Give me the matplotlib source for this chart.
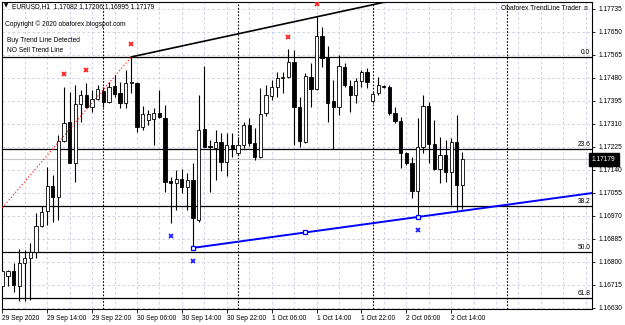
import numpy as np
import pandas as pd
from matplotlib import pyplot as plt

'''EURUSD H1 candles, read off the screenshot'''

opens = [1.16710, 1.16747, 1.16766, 1.16710, 1.16795, 1.16814, 1.16836, 1.16932, 1.16988, 1.17080,
         1.17039, 1.17246, 1.17317, 1.17165, 1.17383, 1.17416, 1.17372, 1.17402, 1.17431, 1.17390,
         1.17450, 1.17424, 1.17387, 1.17461, 1.17461, 1.17298, 1.17324, 1.17328, 1.17350, 1.17331,
         1.17098, 1.17091, 1.17106, 1.17076, 1.17102, 1.16954, 1.17291, 1.17228, 1.17220, 1.17243,
         1.17169, 1.17231, 1.17202, 1.17231, 1.17305, 1.17239, 1.17187, 1.17350, 1.17413, 1.17446,
         1.17479, 1.17483, 1.17538, 1.17372, 1.17243, 1.17483, 1.17439, 1.17634, 1.17553, 1.17394,
         1.17372, 1.17520, 1.17450, 1.17416, 1.17468, 1.17501, 1.17394, 1.17424, 1.17450, 1.17446,
         1.17350, 1.17320, 1.17202, 1.17165, 1.17061, 1.17224, 1.17376, 1.17235, 1.17143, 1.17195,
         1.17132, 1.17243, 1.17082]
highs = [1.16777, 1.16769, 1.16795, 1.16847, 1.16843, 1.16869, 1.16980, 1.17006, 1.17150, 1.17121,
         1.17268, 1.17446, 1.17427, 1.17453, 1.17435, 1.17461, 1.17435, 1.17453, 1.17446, 1.17464,
         1.17490, 1.17464, 1.17509, 1.17557, 1.17464, 1.17376, 1.17361, 1.17368, 1.17435, 1.17379,
         1.17113, 1.17139, 1.17143, 1.17128, 1.17165, 1.17416, 1.17524, 1.17250, 1.17287, 1.17276,
         1.17276, 1.17276, 1.17261, 1.17317, 1.17331, 1.17294, 1.17442, 1.17453, 1.17472, 1.17501,
         1.17501, 1.17586, 1.17583, 1.17409, 1.17498, 1.17535, 1.17705, 1.17668, 1.17597, 1.17472,
         1.17564, 1.17535, 1.17472, 1.17479, 1.17509, 1.17516, 1.17427, 1.17483, 1.17453, 1.17453,
         1.17372, 1.17335, 1.17206, 1.17187, 1.17331, 1.17416, 1.17390, 1.17324, 1.17261, 1.17250,
         1.17257, 1.17342, 1.17206]
lows = [1.16703, 1.16710, 1.16688, 1.16655, 1.16655, 1.16658, 1.16814, 1.16928, 1.16936, 1.16947,
        1.16954, 1.17243, 1.17165, 1.17095, 1.17317, 1.17368, 1.17353, 1.17398, 1.17372, 1.17387,
        1.17409, 1.17368, 1.17368, 1.17424, 1.17280, 1.17287, 1.17305, 1.17231, 1.17331, 1.17058,
        1.16943, 1.16991, 1.17054, 1.16991, 1.16851, 1.16947, 1.17224, 1.17058, 1.17102, 1.17135,
        1.17117, 1.17187, 1.17195, 1.17220, 1.17228, 1.17176, 1.17183, 1.17339, 1.17398, 1.17409,
        1.17424, 1.17479, 1.17231, 1.17224, 1.17239, 1.17372, 1.17435, 1.17520, 1.17317, 1.17217,
        1.17342, 1.17446, 1.17353, 1.17387, 1.17446, 1.17442, 1.17387, 1.17416, 1.17442, 1.17342,
        1.17313, 1.17146, 1.17158, 1.17036, 1.16965, 1.17202, 1.17165, 1.17139, 1.17091, 1.17095,
        1.17010, 1.16991, 1.16995]
closes = [1.16766, 1.16766, 1.16714, 1.16795, 1.16814, 1.16836, 1.16932, 1.16984, 1.17080, 1.17039,
          1.17246, 1.17313, 1.17165, 1.17383, 1.17416, 1.17372, 1.17402, 1.17439, 1.17390, 1.17446,
          1.17420, 1.17387, 1.17461, 1.17464, 1.17298, 1.17346, 1.17346, 1.17350, 1.17335, 1.17095,
          1.17091, 1.17106, 1.17076, 1.17102, 1.16962, 1.17287, 1.17224, 1.17224, 1.17243, 1.17169,
          1.17231, 1.17217, 1.17231, 1.17305, 1.17239, 1.17187, 1.17346, 1.17416, 1.17446, 1.17479,
          1.17483, 1.17538, 1.17372, 1.17246, 1.17487, 1.17439, 1.17634, 1.17553, 1.17387, 1.17372,
          1.17524, 1.17453, 1.17416, 1.17468, 1.17501, 1.17464, 1.17420, 1.17453, 1.17446, 1.17350,
          1.17320, 1.17202, 1.17165, 1.17061, 1.17224, 1.17376, 1.17235, 1.17143, 1.17195, 1.17132,
          1.17243, 1.17082, 1.17179]

times = pd.date_range("2020-09-29 06:00", periods=len(closes), freq="h")

sell_marks = [11, 15, 23, 51, 56]     # red x above highs
buy_marks = [30, 34, 74]              # blue x below lows
upper_line = (23, 56)                 # black trendline through highs
lower_line = (34, 74)                 # blue trendline through lows
red_dot_start = 1.16999               # dotted red line, left edge price
fib_high, fib_low = 1.17557, 1.16112
fib_levels = [0.0, 23.6, 38.2, 50.0, 61.8]
yticks = [1.16630 + 0.00085 * k for k in range(14)]

plt.rcParams['font.family'] = ['Liberation Sans', 'DejaVu Sans']
fs = 4.8

fig = plt.figure(figsize=(6.25, 3.25), dpi=100)
ax = fig.add_axes([2 / 625, 1 - 309 / 325, 590 / 625, 307 / 325])

n = len(closes)
x = np.arange(n)
o = np.array(opens); h = np.array(highs); l = np.array(lows); c = np.array(closes)

ax.set_xlim(-0.053, 105.1)
ax.set_ylim(1.16625, 1.17760)

# grid
for i in range(0, 106, 4):
    ax.axvline(i, color='#c8c8e8', lw=0.6, ls=(0, (3, 3)), zorder=0)
for yv in yticks:
    ax.axhline(yv, color='#c8c8e8', lw=0.6, ls=(0, (3, 3)), zorder=0)
# day separators
for i in range(0, 106):
    if (times[0].hour + i) % 24 == 0:
        ax.axvline(i, color='black', lw=0.8, ls=(0, (1.5, 1.5)), zorder=1)

# fib levels
for lv in fib_levels:
    yv = fib_high - (fib_high - fib_low) * lv / 100
    ax.axhline(yv, color='black', lw=0.9, zorder=2)
    ax.text(104.8, yv + 0.00004, '%.1f' % lv, ha='right', va='bottom', fontsize=fs, zorder=6)

# bid line
ax.axhline(c[-1], color='#c8c8c8', lw=0.8, zorder=1)

# candles
ax.vlines(x, l, h, color='black', lw=0.8, zorder=3)
bull = c >= o
ax.bar(x[bull], (c - o)[bull], bottom=o[bull], width=0.58, color='white',
       edgecolor='black', lw=0.6, zorder=4)
ax.bar(x[~bull], (o - c)[~bull], bottom=c[~bull], width=0.58, color='black',
       edgecolor='black', lw=0.6, zorder=4)

# trendlines
a, b = upper_line
slope = (h[b] - h[a]) / (b - a)
xx = np.array([a, 110])
ax.plot(xx, h[a] + slope * (xx - a), color='black', lw=1.2, zorder=5)
ax.plot([0, a], [red_dot_start, h[a]], color='red', lw=0.8, ls=(0, (1, 2)), zorder=5)

a, b = lower_line
slope = (l[b] - l[a]) / (b - a)
xx = np.array([a, 110])
ax.plot(xx, l[a] + slope * (xx - a), color='#0000ff', lw=1.4, zorder=5)
mid = (a + b) // 2
sq = np.array([a, mid, b])
ax.plot(sq, l[a] + slope * (sq - a), 's', ms=3, mfc='white', mec='#0000ff', mew=0.9, zorder=6)

# signal markers
ax.plot(x[sell_marks], h[sell_marks] + 0.00046, 'x', color='#ff2020', ms=3.5, mew=1.3, zorder=6)
ax.plot(x[buy_marks], l[buy_marks] - 0.00048, 'x', color='#2020ff', ms=3.5, mew=1.3, zorder=6)

# axes
ax.yaxis.tick_right()
ax.set_yticks(yticks)
ax.set_yticklabels(['%.5f' % v for v in yticks], fontsize=fs)
ax.tick_params(axis='y', length=2.5, width=0.6, pad=2)
xt = list(range(0, n, 8))
xl = []
for i in xt:
    t = times[i]
    xl.append('%d %s' % (t.day, t.strftime('%b %Y')) if i == 0 else '%d %s' % (t.day, t.strftime('%b %H:%M')))
ax.set_xticks(xt)
ax.set_xticklabels(xl, fontsize=fs, ha='left')
ax.tick_params(axis='x', length=3, width=0.6, pad=1.5)
for s in ax.spines.values():
    s.set_linewidth(0.8)

# current price box
ax.text(1.0, c[-1], '%.5f' % c[-1], transform=ax.get_yaxis_transform(), fontsize=fs,
        color='white', ha='left', va='center', zorder=10, clip_on=False,
        bbox=dict(boxstyle='square,pad=0.45', fc='black', ec='black'))

# texts
fig.text(4 / 625, 1 - 6 / 325, '▼', fontsize=4, va='center', family=['DejaVu Sans'])
fig.text(12 / 625, 1 - 6.5 / 325, 'EURUSD,H1  %.5f %.5f %.5f %.5f' % (o[-1], h[-1], l[-1], c[-1]),
         fontsize=fs, va='center')
fig.text(5 / 625, 1 - 24 / 325, 'Copyright © 2020 obaforex.blogspot.com', fontsize=fs, va='center')
fig.text(7 / 625, 1 - 41 / 325, 'Buy Trend Line Detected', fontsize=fs, va='center')
fig.text(7 / 625, 1 - 50 / 325, 'NO Sell Trend Line', fontsize=fs, va='center')
fig.text(589 / 625, 1 - 8.5 / 325, 'Obaforex TrendLine Trader ☺', fontsize=fs, va='center', ha='right')

fig.savefig('out.png', dpi=100)
